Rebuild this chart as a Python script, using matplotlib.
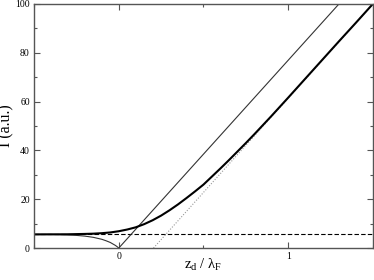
import numpy as np
import matplotlib.pyplot as plt
from matplotlib.ticker import MultipleLocator

plt.rcParams['font.family'] = 'Liberation Serif'
plt.rcParams['mathtext.fontset'] = 'custom'
plt.rcParams['mathtext.rm'] = 'Liberation Serif'
plt.rcParams['mathtext.it'] = 'Liberation Serif'

# full intensity (thick curve)
x_full = [-0.5, -0.3, -0.2, -0.15, -0.1, -0.05, 0.0, 0.05, 0.1, 0.15, 0.2, 0.25,
          0.3, 0.35, 0.4, 0.45, 0.5, 0.55, 0.6, 0.65, 0.7, 0.75, 0.8, 0.9,
          1.0, 1.1, 1.2, 1.3, 1.4, 1.5]
I_full = [5.6, 5.65, 5.8, 5.9, 6.1, 6.4, 6.9, 7.6, 8.5, 9.8, 11.4, 13.3,
          15.5, 17.9, 20.5, 23.2, 26.0, 29.3, 32.6, 36.0, 39.5, 43.0, 46.6, 54.0,
          61.6, 69.3, 77.0, 84.7, 92.3, 100.0]

# thin curve: decays to zero at origin, then linear
x_thin = [-0.5, -0.4, -0.35, -0.3, -0.25, -0.2, -0.15, -0.1, -0.075, -0.05,
          -0.02, -0.01, 0.0, 1.3]
I_thin = [5.6, 5.58, 5.52, 5.4, 5.2, 4.9, 4.4, 3.6, 3.0, 2.3,
          1.1, 0.6, 0.0, 100.0]

# background level (dashed)
x_bg = [-0.5, 1.5]
I_bg = [5.6, 5.6]

# asymptote (dotted)
x_asym = [0.205, 1.5]
I_asym = [0.0, 100.0]

fig = plt.figure(figsize=(3.74, 2.8), dpi=100)
ax = fig.add_axes([0.091, 0.114, 0.906, 0.872])

ax.plot(x_bg, I_bg, color='black', lw=0.8, ls=(0, (4, 2)))
ax.plot(x_asym, I_asym, color='#999999', lw=0.8, ls=(0, (1, 1.5)))
ax.plot(x_thin, I_thin, color='#333333', lw=0.8)
ax.plot(x_full, I_full, color='black', lw=1.5)

ax.set_xlim(-0.5, 1.5)
ax.set_ylim(0, 100)
ax.set_xticks([0, 1])
ax.xaxis.set_minor_locator(MultipleLocator(0.5))
ax.set_yticks([0, 20, 40, 60, 80, 100])
ax.yaxis.set_minor_locator(MultipleLocator(10))
ax.tick_params(which='both', direction='in', top=True, right=True,
               labelsize=7, color='#555555', pad=3)
ax.tick_params(which='major', length=4, width=0.8)
ax.tick_params(which='minor', length=2.5, width=0.8)
for s in ax.spines.values():
    s.set_color('#555555')
    s.set_linewidth(1.0)

ax.set_xlabel(r'$\mathregular{z_d}$ / $\mathregular{\lambda_F}$', fontsize=10.5)
ax.set_ylabel('I (a.u.)', fontsize=11.5)
ax.yaxis.set_label_coords(-0.057, 0.5)
ax.xaxis.set_label_coords(0.5, -0.035)

fig.savefig('out.png', dpi=100)
